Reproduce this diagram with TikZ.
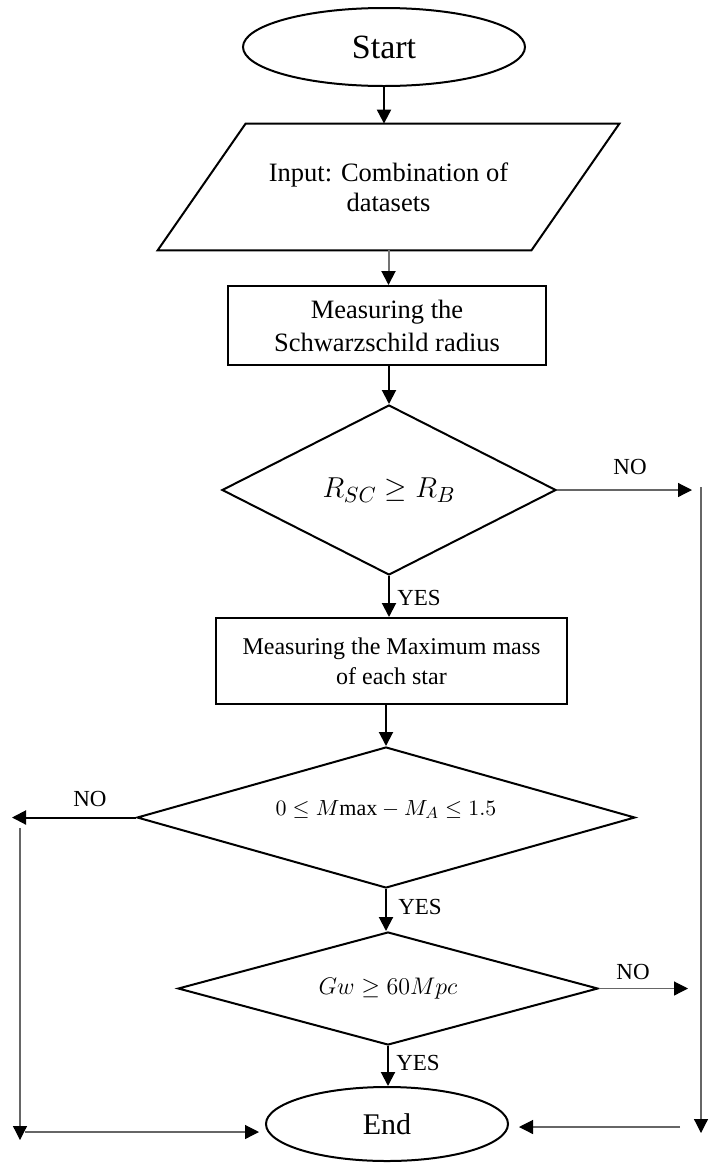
\documentclass[tikz,border=0pt]{standalone}
\usepackage{fontspec}
\setmainfont{Liberation Serif}
\usetikzlibrary{shapes.geometric,arrows.meta}
\begin{document}
\begin{tikzpicture}[x=0.5pt,y=-0.5pt,
  tipb/.style={-{Triangle[length=7pt,width=7pt,color=black]}},
  flow/.style={draw=black, line width=1pt, tipb},
  grayflow/.style={draw=black!55, line width=1pt, tipb},
  thinflow/.style={draw=black!60, line width=0.6pt, tipb},
  box/.style={draw, rectangle, line width=1pt, align=center, inner sep=0pt},
  term/.style={draw, ellipse, line width=1pt, inner sep=0pt},
  decision/.style={draw, diamond, line width=1pt, inner sep=0pt},
  lbl/.style={font=\fontsize{11.5}{13}\selectfont}
]
\useasboundingbox (0,0) rectangle (721,1163);

% nodes
\node[term, minimum width=141pt, minimum height=39pt, font=\fontsize{17}{20}\selectfont] (start) at (384,47) {Start};

\node[minimum width=186.5pt, minimum height=63pt, inner sep=0pt, align=center, font=\fontsize{13.25}{15}\selectfont] (input) at (388.5,187) {Input: Combination of\\datasets};
\draw[line width=1pt] ([xshift=22pt]input.north west) -- ([xshift=22pt]input.north east) -- ([xshift=-22pt]input.south east) -- ([xshift=-22pt]input.south west) -- cycle;

\node[box, minimum width=159pt, minimum height=39.5pt, font=\fontsize{13.25}{16.5}\selectfont] (r1) at (387,325.5) {Measuring the\\Schwarzschild radius};

\node[decision, aspect=1.96, minimum width=167pt, minimum height=85pt, font=\fontsize{15}{18}\selectfont] (d1) at (389,490) {$R_{SC} \geq R_B$};

\node[box, minimum width=175.5pt, minimum height=43pt, font=\fontsize{12}{15}\selectfont] (r2) at (391.5,661) {Measuring the Maximum mass\\of each star};

\node[decision, aspect=3.53, minimum width=249pt, minimum height=70.5pt, font=\fontsize{11}{12}\selectfont] (d2) at (386,817.5) {\raisebox{1pt}[0pt][0pt]{$0 \leq M\mathrm{max} - M_A \leq 1.5$}};

\node[decision, aspect=3.72, minimum width=210pt, minimum height=56.5pt, font=\fontsize{11.5}{13}\selectfont] (d3) at (388,988.5) {$Gw \geq 60Mpc$};

\node[term, minimum width=121pt, minimum height=37pt, font=\fontsize{15}{18}\selectfont] (end) at (387,1124) {End};

% free ends
\coordinate (no1end) at (692,488);
\coordinate (rtop) at (701,487);
\coordinate (rbot) at (701,1133);
\coordinate (rh) at (680,1127);
\coordinate (no2end) at (12,817);
\coordinate (ltop) at (20,828);
\coordinate (lbot) at (20,1140);
\coordinate (lh) at (25,1132);
\coordinate (no3end) at (688,987);

% connectors
\draw[flow] (start.south) -- (start.south |- input.north);
\draw[grayflow] (input.south) -- (input.south |- r1.north);
\draw[flow] (r1.south -| d1.north) -- (d1.north);
\draw[flow] (d1.south) -- (d1.south |- r2.north);
\draw[flow] (d2.north |- r2.south) -- (d2.north);
\draw[flow] (d2.south) -- (d2.south |- d3.north);
\draw[flow] (d3.south) -- (d3.south |- end.north);

\draw[thinflow] (d1.east) -- (d1.east -| no1end);
\draw[thinflow] (rtop) -- (rbot);
\draw[thinflow, shorten >=5pt] (rh) -- (end.east |- rh);
\draw[flow] (d2.west) -- (d2.west -| no2end);
\draw[thinflow] (ltop) -- (lbot);
\draw[thinflow, shorten >=3pt] (lh) -- (end.west |- lh);
\draw[thinflow] (d3.east) -- (d3.east -| no3end);

% labels
\node[lbl] at (630,467) {NO};
\node[lbl] at (90,799) {NO};
\node[lbl] at (633,972) {NO};
\node[lbl] at (419,598) {YES};
\node[lbl] at (420,907) {YES};
\node[lbl] at (418,1063) {YES};
\end{tikzpicture}
\end{document}
